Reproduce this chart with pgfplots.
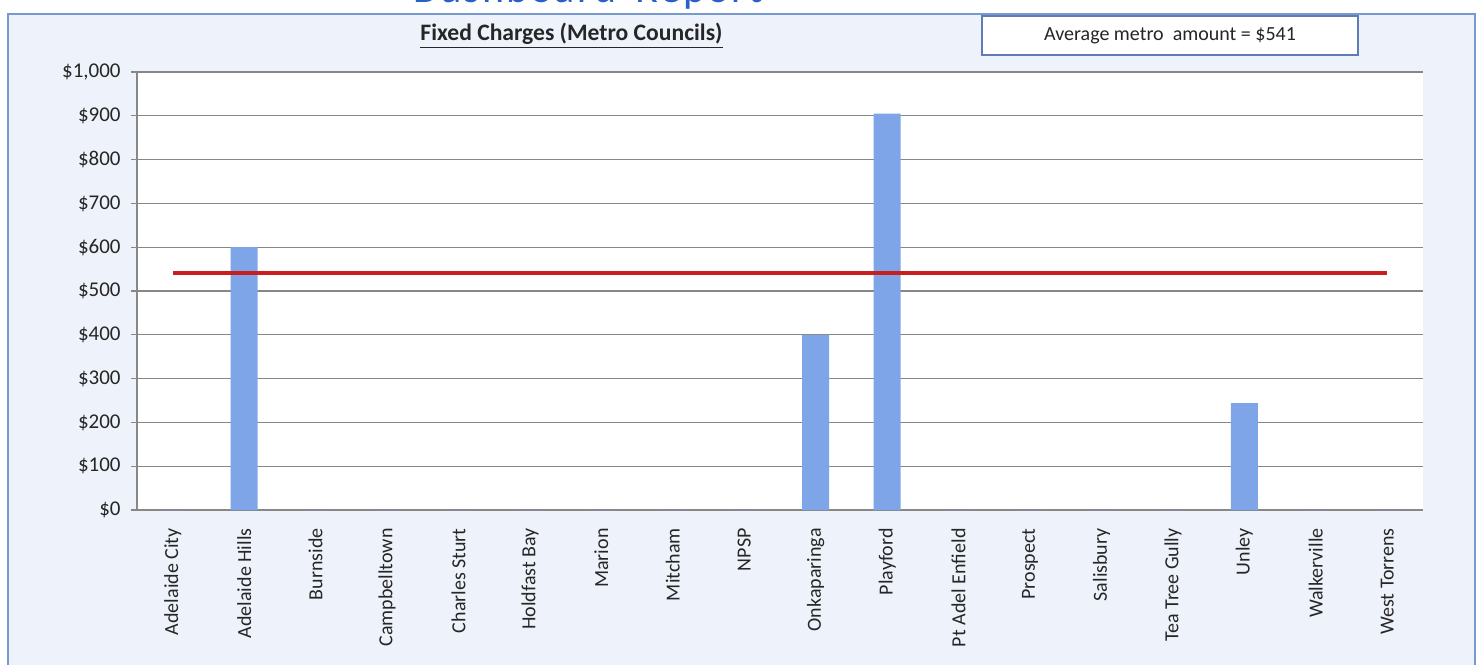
\documentclass[border=0pt]{standalone}
\usepackage{pgfplots}
\pgfplotsset{compat=1.18}
\usepackage{fontspec}
\setmainfont{Carlito}
\definecolor{framefill}{RGB}{238,243,251}
\definecolor{frameline}{RGB}{120,152,210}
\definecolor{barblue}{RGB}{126,165,232}
\definecolor{avgred}{RGB}{200,30,30}
\definecolor{gridgray}{RGB}{135,135,135}
\definecolor{titleblue}{RGB}{40,95,200}
\definecolor{boxline}{RGB}{95,125,180}
\begin{document}
\begin{tikzpicture}
\useasboundingbox (0pt,0pt) rectangle (741pt,332pt);
\fill[framefill] (4pt,-2pt) rectangle (737.5pt,325pt);
\draw[frameline, line width=1pt] (4pt,-2pt) -- (4pt,325pt) -- (737.5pt,325pt) -- (737.5pt,-2pt);
\node[anchor=base, text=titleblue, font=\fontsize{21}{24}\selectfont, inner sep=0pt] at (294pt,330.5pt) {D\kern1.1pt a\kern1.1pt s\kern1.1pt h\kern1.1pt b\kern1.1pt o\kern1.1pt a\kern1.1pt r\kern1.1pt d\ \ R\kern1.1pt e\kern1.1pt p\kern1.1pt o\kern1.1pt r\kern1.1pt t};
\begin{axis}[
  at={(68.5pt,77pt)}, anchor=south west,
  width=643pt, height=219pt, scale only axis,
  xmin=-0.5, xmax=17.5, ymin=0, ymax=1000,
  axis background/.style={fill=white},
  axis x line*=bottom, axis y line*=left,
  axis line style={gridgray, line width=0.6pt},
  xtick={0,...,17},
  xticklabels={Adelaide City,Adelaide Hills,Burnside,Campbelltown,Charles Sturt,Holdfast Bay,Marion,Mitcham,NPSP,Onkaparinga,Playford,Pt Adel Enfield,Prospect,Salisbury,Tea Tree Gully,Unley,Walkerville,West Torrens},
  minor xtick={-0.5,0.5,...,17.5},
  xtick style={draw=none},
  minor x tick style={gridgray, line width=0.6pt},
  minor tick length=3pt,
  major tick length=3pt,
  tick align=outside,
  ytick={0,100,...,1000},
  yticklabels={\$0,\$100,\$200,\$300,\$400,\$500,\$600,\$700,\$800,\$900,\$1{,}000},
  ytick style={gridgray, line width=0.6pt},
  ymajorgrids, grid style={gridgray, line width=0.6pt},
  yticklabel style={font=\fontsize{10.5}{12}\selectfont, text=black!85, inner sep=0pt, xshift=-5pt},
  xticklabel style={font=\fontsize{10}{12}\selectfont, text=black!85, rotate=90, anchor=east, inner sep=0pt},
  xticklabel shift=6pt,
  clip=false,
]
\addplot[ybar, bar width=13.5pt, fill=barblue, draw=none] coordinates {
  (0,0) (1,600) (2,0) (3,0) (4,0) (5,0) (6,0) (7,0) (8,0) (9,400)
  (10,905) (11,0) (12,0) (13,0) (14,0) (15,244) (16,0) (17,0)};
\addplot[avgred, line width=1.6pt] coordinates {(0,541) (17,541)};
\end{axis}
\node[font=\bfseries\fontsize{11.8}{14}\selectfont, text=black!85, inner sep=0pt] at (285.75pt,314pt) {\underline{Fixed Charges (Metro Councils)}};
\draw[fill=white, draw=boxline, line width=0.6pt] (491pt,304.5pt) rectangle (679pt,324pt);
\node[font=\fontsize{10}{12}\selectfont, text=black!85] at (585pt,314.3pt) {Average metro\ \ amount = \$541};
\end{tikzpicture}
\end{document}
